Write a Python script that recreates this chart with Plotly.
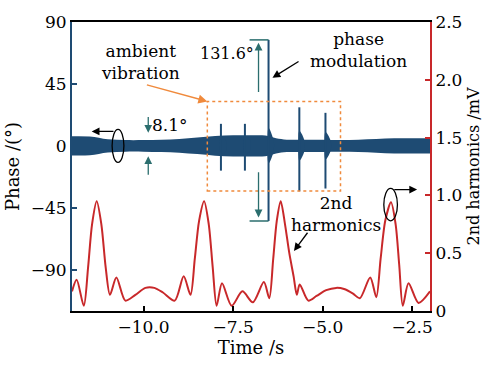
import plotly.graph_objects as go

# ---- data ----
band_t = [-12.0, -11.5, -11.0, -10.5, -10.0, -9.5, -9.0, -8.5, -8.0, -7.5, -7.0, -6.6, -6.3, -6.0, -5.5, -5.0, -4.5, -4.0, -3.5, -3.0, -2.5, -2.0]
band_half = [7.0, 6.8, 4.8, 4.2, 4.2, 4.5, 5.0, 6.0, 7.2, 7.7, 7.7, 7.5, 5.5, 4.5, 4.5, 4.5, 4.3, 4.5, 5.0, 5.5, 5.5, 5.5]

spike_t = [-7.84, -7.17, -6.51, -5.65, -4.92]
spike_top = [16, 16, 77, 28, 24]
spike_bot = [-18, -18, -54.6, -33, -31]
spike_flare = [2, 2, 9, 7, 6]

harm_t = [-12.0, -11.87, -11.67, -11.55, -11.44, -11.31, -11.18, -11.06, -10.94, -10.76, -10.51, -10.23, -9.95, -9.7, -9.46,
          -9.13, -8.88, -8.69, -8.57, -8.45, -8.31, -8.18, -8.07, -7.96, -7.81, -7.54, -7.24, -6.95, -6.64, -6.49,
          -6.38, -6.28, -6.17, -6.05, -5.93, -5.81, -5.72, -5.64, -5.40, -5.17, -4.90, -4.62, -4.40, -4.15, -3.96,
          -3.67, -3.50, -3.38, -3.25, -3.09, -2.96, -2.86, -2.76, -2.60, -2.32, -2.0]
harm_v = [0.17, 0.27, 0.045, 0.38, 0.75, 0.95, 0.75, 0.38, 0.14, 0.29, 0.09, 0.14, 0.20, 0.20, 0.16,
          0.09, 0.30, 0.14, 0.45, 0.78, 0.95, 0.75, 0.38, 0.045, 0.24, 0.045, 0.17, 0.075, 0.25, 0.11,
          0.45, 0.78, 0.95, 0.75, 0.50, 0.30, 0.14, 0.23, 0.09, 0.13, 0.18, 0.20, 0.19, 0.15, 0.11,
          0.29, 0.12, 0.45, 0.78, 0.94, 0.75, 0.40, 0.045, 0.24, 0.07, 0.17]

x_ticks = [-10.0, -7.5, -5.0, -2.5]
x_ticktext = ["\u221210.0", "\u22127.5", "\u22125.0", "\u22122.5"]
y_ticks = [-90, -45, 0, 45, 90]
y_ticktext = ["\u221290", "\u221245", "0", "45", "90"]
y2_ticks = [0, 0.5, 1.0, 1.5, 2.0, 2.5]
y2_ticktext = ["0", "0.5", "1.0", "1.5", "2.0", "2.5"]

BLUE = "#1e4b73"
RED = "#c8282a"
TEAL = "#2b6e6e"
ORANGE = "#f08a3c"
FONT = "DejaVu Serif"

fig = go.Figure()

# band (upper then lower with fill)
fig.add_trace(go.Scatter(x=band_t, y=band_half, mode="lines", line=dict(color=BLUE, width=0, shape="spline"),
                         showlegend=False, hoverinfo="skip"))
fig.add_trace(go.Scatter(x=band_t, y=[-h for h in band_half], mode="lines", line=dict(color=BLUE, width=0, shape="spline"),
                         fill="tonexty", fillcolor=BLUE, showlegend=False, hoverinfo="skip"))

# spike flares (small filled bases)
for t, f in zip(spike_t, spike_flare):
    fig.add_trace(go.Scatter(x=[t - 0.03, t, t + 0.14, t + 0.14, t, t - 0.03],
                             y=[4, 4 + f, 4, -4, -4 - f, -4], mode="lines", fill="toself",
                             fillcolor=BLUE, line=dict(color=BLUE, width=0, shape="spline"),
                             showlegend=False, hoverinfo="skip"))

# spikes
sx, sy = [], []
for t, a, b in zip(spike_t, spike_top, spike_bot):
    sx += [t, t, None]
    sy += [b, a, None]
fig.add_trace(go.Scatter(x=sx, y=sy, mode="lines", line=dict(color=BLUE, width=2), showlegend=False, hoverinfo="skip"))

# 2nd harmonics
fig.add_trace(go.Scatter(x=harm_t, y=harm_v, mode="lines", yaxis="y2",
                         line=dict(color=RED, width=2, shape="spline", smoothing=0.8),
                         showlegend=False, hoverinfo="skip"))

shapes = [
    dict(type="rect", xref="x", yref="y", x0=-8.22, x1=-4.5, y0=-32.8, y1=32.3,
         line=dict(color=ORANGE, width=1.5, dash="dot")),
    dict(type="circle", xref="x", yref="y", x0=-10.88, x1=-10.55, y0=-12, y1=12,
         line=dict(color="black", width=1.3)),
    dict(type="circle", xref="x", yref="y2", x0=-3.29, x1=-2.91, y0=0.78, y1=1.06,
         line=dict(color="black", width=1.3)),
    dict(type="line", xref="x", yref="y", x0=-7.04, x1=-6.51, y0=77, y1=77, line=dict(color=TEAL, width=1.5)),
    dict(type="line", xref="x", yref="y", x0=-7.04, x1=-6.51, y0=-54.6, y1=-54.6, line=dict(color=TEAL, width=1.5)),
]

ann = []
def arrow(x, y, ax, ay, color, xref="x", yref="y", width=1.3, head=2, size=1.2):
    ann.append(dict(x=x, y=y, ax=ax, ay=ay, xref=xref, yref=yref, axref=xref, ayref=yref,
                    showarrow=True, arrowhead=head, arrowsize=size, arrowwidth=width, arrowcolor=color, text=""))

arrow(-6.79, 75, -6.79, 38, TEAL)
arrow(-6.79, -52, -6.79, -18, TEAL)
arrow(-9.87, 9.5, -9.87, 22, TEAL)
arrow(-9.87, -7.5, -9.87, -22, TEAL)
arrow(-11.45, 10.5, -10.8, 10.5, "black")
arrow(-2.36, 1.05, -3.04, 1.05, "black", yref="y2")
arrow(-6.40, 49.5, -5.63, 62, "black")
arrow(-5.80, 0.52, -5.39, 0.69, "black", yref="y2")
arrow(-8.22, 32.3, -9.95, 44.6, ORANGE, width=1.5)

def text(x, y, s, xref="x", yref="y", size=17, color="black"):
    ann.append(dict(x=x, y=y, xref=xref, yref=yref, text=s, showarrow=False,
                    font=dict(family=FONT, size=size, color=color), align="center"))

text(-10.1, 61, "ambient<br>vibration")
text(-7.67, 67, "131.6°", size=16)
text(-4.0, 69.5, "phase<br>modulation")
text(-9.27, 15.3, "8.1°")
text(-4.62, 0.835, "2nd<br>harmonics", yref="y2")

fig.update_layout(
    width=492, height=366,
    margin=dict(l=70, r=58, t=17, b=48),
    paper_bgcolor="white", plot_bgcolor="white",
    font=dict(family=FONT, size=16, color="black"),
    shapes=shapes, annotations=ann,
    xaxis=dict(range=[-12, -2], tickvals=x_ticks, ticktext=x_ticktext, ticks="inside", ticklen=5, tickwidth=2,
               tickcolor="black", showline=True, linecolor="black", linewidth=2, mirror=True, showgrid=False,
               zeroline=False, title=dict(text="Time /s", standoff=4, font=dict(family=FONT, size=18, color="black")),
               tickfont=dict(family=FONT, size=17, color="black")),
    yaxis=dict(range=[-120, 90], tickvals=y_ticks, ticktext=y_ticktext, ticks="inside", ticklen=5, tickwidth=2,
               tickcolor=BLUE, showline=True, linecolor=BLUE, linewidth=2, showgrid=False, zeroline=False,
               title=dict(text="Phase /(°)", standoff=6, font=dict(family=FONT, size=18, color="black")),
               tickfont=dict(family=FONT, size=17, color="black")),
    yaxis2=dict(range=[0, 2.5], tickvals=y2_ticks, ticktext=y2_ticktext, overlaying="y", side="right",
                ticks="inside", ticklen=5, tickwidth=2, tickcolor=RED, showline=True, linecolor=RED, linewidth=2,
                showgrid=False, zeroline=False,
                title=dict(text="2nd harmonics /mV", standoff=6, font=dict(family=FONT, size=16, color="black")),
                tickfont=dict(family=FONT, size=17, color="black")),
)

fig.write_html("out.html")
